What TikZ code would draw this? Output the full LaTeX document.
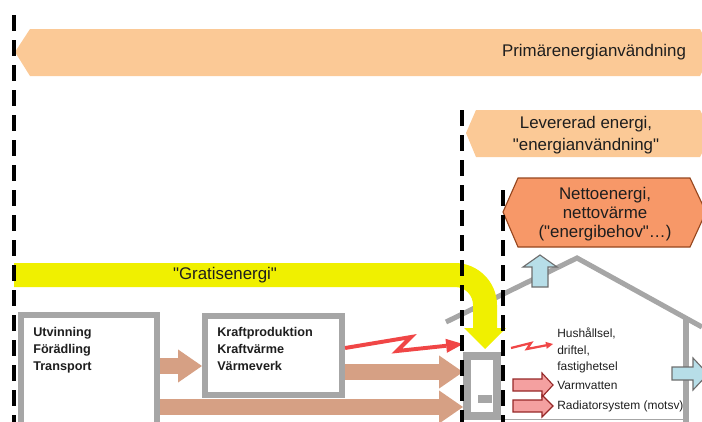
\documentclass[tikz,border=0pt]{standalone}
\usepackage{fontspec}
\setmainfont{Liberation Sans}
\usetikzlibrary{arrows.meta,positioning,calc}

\definecolor{bandorange}{RGB}{251,201,150}
\definecolor{nettoorange}{RGB}{247,152,104}
\definecolor{nettoedge}{RGB}{150,70,30}
\definecolor{gratisyellow}{RGB}{240,240,0}
\definecolor{framegray}{RGB}{166,166,166}
\definecolor{flowbrown}{RGB}{214,160,132}
\definecolor{boltred}{RGB}{240,70,70}
\definecolor{heatpink}{RGB}{244,160,160}
\definecolor{heatedge}{RGB}{150,40,40}
\definecolor{lossblue}{RGB}{183,222,232}
\definecolor{lossedge}{RGB}{110,110,110}
\definecolor{txt}{RGB}{30,30,30}

\tikzset{
  boundary/.style={line width=3.2pt, dash pattern=on 11.4pt off 6.4pt},
  band/.style={fill=bandorange},
  netto/.style={fill=nettoorange, draw=nettoedge, line width=0.8pt},
  gratis/.style={fill=gratisyellow},
  wall/.style={draw=framegray, line width=3.6pt},
  stage/.style={draw=framegray, line width=4.3pt, fill=white, inner sep=0pt},
  boxlabel/.style={font=\fontsize{9}{12}\selectfont\bfseries, align=left, inner sep=0pt, text=txt},
  bandlabel/.style={font=\fontsize{12}{15.5}\selectfont, align=center, inner sep=0pt, text=txt},
  houselabel/.style={font=\fontsize{8.5}{11.6}\selectfont, align=left, inner sep=0pt, text=txt},
  flow/.style={draw=flowbrown, line width=10.7pt, -{Triangle[length=17pt,width=23.5pt,line width=0pt]}},
  bolt/.style={draw=boltred, line width=2.8pt, -{Triangle[length=12pt,width=10pt,line width=0pt]}},
  smallbolt/.style={draw=boltred, line width=1.6pt, -{Triangle[length=5pt,width=5pt,line width=0pt]}},
  heat/.style={fill=heatpink, draw=heatedge, line width=0.8pt},
  loss/.style={fill=lossblue, draw=lossedge, line width=0.8pt}
}

\begin{document}
\begin{tikzpicture}[x=0.025cm, y=-0.025cm]
  \useasboundingbox (0,0) rectangle (702,421);
  \clip (0,0) rectangle (702,421);

  \fill[band] (15,52) -- (30,29) -- (700,29) -- (712,52) -- (700,76) -- (30,76) -- cycle;
  \node[bandlabel] (primar) at (594,52) {Primärenergianvändning};

  \fill[band] (466,133) -- (476,110) -- (700,110) -- (712,133) -- (700,157) -- (476,157) -- cycle;
  \node[bandlabel] (levererad) at (586,135) {Levererad energi,\\\textquotedbl energianvändning\textquotedbl};

  \draw[netto] (503,212) -- (518,178) -- (690,178) -- (706,212) -- (690,247) -- (518,247) -- cycle;
  \node[bandlabel, font=\fontsize{12}{13.5}\selectfont] (netto) at (605,214) {Nettoenergi,\\nettovärme\\(\textquotedbl energibehov\textquotedbl…)};

  \draw[wall] (446,322) -- (577,258) -- (702,327);
  \draw[wall] (686,318) -- (686,425);
  \draw[framegray, line width=1.4pt] (462,419.5) -- (686,419.5);

  \node[stage, minimum width=3.4cm, minimum height=3.05cm] (utv) at (89,376) {};
  \node[stage, minimum width=3.425cm, minimum height=1.975cm] (kraft) at (273.5,355.5) {};
  \node[stage, line width=5.7pt, minimum width=0.75cm, minimum height=1.5cm] (panna) at (482,386) {};
  \fill[framegray] (478,395) rectangle (492,403);

  \fill[gratis] (14,263) -- (455,263) .. controls (478,263) and (497,282) .. (497,305)
    -- (497,328) -- (506,328) -- (485,349) -- (464,328) -- (473,328) -- (473,305)
    .. controls (473,295) and (465,287) .. (455,287) -- (14,287) -- cycle;
  \node[bandlabel] (gratistext) at (225,275) {\textquotedbl Gratisenergi\textquotedbl};

  \draw[flow] (utv.east |- 0,366) -- (kraft.west |- 0,366);
  \draw[flow] (kraft.east |- 0,372) -- (panna.west |- 0,372);
  \draw[flow] (utv.east |- 0,407) -- (panna.west |- 0,407);
  \draw[bolt] (kraft.east |- 0,348) -- (411,337) -- (397,351) -- (panna.west |- 0,344);
  \draw[smallbolt] (511,348) -- (531,343) -- (527,349) -- (553,344);

  \draw[heat] (513,379) -- (542,379) -- (542,373) -- (553,385) -- (542,397) -- (542,391) -- (513,391) -- cycle;
  \draw[heat] (513,400) -- (542,400) -- (542,395) -- (553,406) -- (542,417) -- (542,412) -- (513,412) -- cycle;
  \draw[loss] (532,287) -- (532,267) -- (523,267) -- (540,255) -- (557,267) -- (548,267) -- (548,287) -- cycle;
  \draw[loss] (672,367) -- (693,367) -- (693,358) -- (708,374) -- (693,390) -- (693,380) -- (672,380) -- cycle;

  \node[boxlabel, anchor=north west] (utvtext) at (33,327) {Utvinning\\Förädling\\Transport};
  \node[boxlabel, anchor=north west] (krafttext) at (217,327) {Kraftproduktion\\Kraftvärme\\Värmeverk};
  \node[houselabel, anchor=north west] (eltext) at (557,328) {Hushållsel,\\driftel,\\fastighetsel};
  \node[houselabel, anchor=west] (vvtext) at (557,385) {Varmvatten};
  \node[houselabel, anchor=west] (radtext) at (557,406) {Radiatorsystem (motsv)};

  \draw[boundary] (14,15) -- (14,425);
  \draw[boundary] (462,110) -- (462,425);
  \draw[boundary] (503,190) -- (503,425);
\end{tikzpicture}
\end{document}
